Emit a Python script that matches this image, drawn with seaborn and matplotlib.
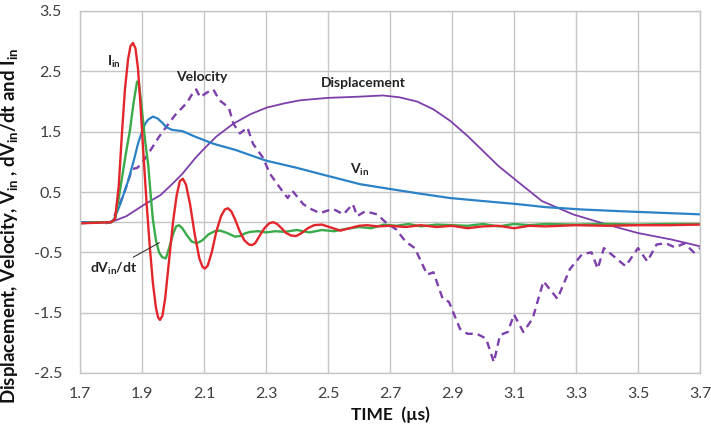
import numpy as np
import pandas as pd
import matplotlib
matplotlib.use("Agg")
import matplotlib.pyplot as plt
import seaborn as sns

# --- measured waveforms (time in microseconds) ---
i_in_t = [1.70, 1.75, 1.80, 1.813, 1.825, 1.835, 1.845, 1.855, 1.863, 1.871, 1.879,
          1.887, 1.895, 1.905, 1.915, 1.925, 1.935, 1.945, 1.952, 1.958, 1.966, 1.975,
          1.988, 2.000, 2.012, 2.022, 2.032, 2.042, 2.055, 2.070, 2.085, 2.095, 2.103,
          2.112, 2.125, 2.140, 2.155, 2.167, 2.177, 2.188, 2.200, 2.215, 2.230, 2.245,
          2.255, 2.265, 2.280, 2.295, 2.310, 2.323, 2.336, 2.350, 2.365, 2.380, 2.397,
          2.415, 2.435, 2.455, 2.480, 2.510, 2.540, 2.570, 2.600, 2.626, 2.660, 2.700,
          2.750, 2.800, 2.850, 2.900, 2.950, 3.000, 3.050, 3.100, 3.150, 3.200, 3.300,
          3.400, 3.500, 3.600, 3.700]
i_in_v = [-0.02, -0.01, 0.00, 0.05, 0.60, 1.45, 2.20, 2.70, 2.92, 2.97, 2.88,
          2.55, 1.95, 1.10, 0.30, -0.40, -1.00, -1.42, -1.58, -1.62, -1.55, -1.25,
          -0.60, 0.00, 0.45, 0.68, 0.72, 0.62, 0.30, -0.20, -0.60, -0.74, -0.77,
          -0.72, -0.50, -0.15, 0.10, 0.21, 0.23, 0.18, 0.05, -0.15, -0.30, -0.37,
          -0.38, -0.35, -0.22, -0.10, -0.02, 0.00, -0.03, -0.10, -0.18, -0.22, -0.23,
          -0.18, -0.10, -0.05, -0.04, -0.09, -0.14, -0.10, -0.06, -0.05, -0.07, -0.06,
          -0.08, -0.05, -0.08, -0.06, -0.10, -0.07, -0.06, -0.10, -0.06, -0.07, -0.05,
          -0.06, -0.05, -0.05, -0.04]

dvdt_t = [1.70, 1.75, 1.80, 1.813, 1.825, 1.839, 1.850, 1.861, 1.872, 1.884, 1.890,
          1.898, 1.910, 1.920, 1.928, 1.935, 1.945, 1.955, 1.965, 1.977, 1.988, 2.000,
          2.010, 2.019, 2.030, 2.045, 2.060, 2.077, 2.095, 2.115, 2.135, 2.152, 2.175,
          2.200, 2.216, 2.235, 2.250, 2.275, 2.300, 2.330, 2.360, 2.400, 2.440, 2.480,
          2.520, 2.560, 2.600, 2.640, 2.680, 2.720, 2.760, 2.800, 2.850, 2.900, 2.950,
          3.000, 3.050, 3.100, 3.150, 3.200, 3.300, 3.400, 3.500, 3.600, 3.700]
dvdt_v = [-0.02, 0.00, 0.00, 0.05, 0.40, 0.85, 1.20, 1.52, 1.95, 2.33, 2.30,
          1.95, 1.35, 0.95, 0.45, 0.05, -0.30, -0.50, -0.58, -0.60, -0.42, -0.20,
          -0.07, -0.05, -0.10, -0.22, -0.32, -0.35, -0.30, -0.20, -0.15, -0.14, -0.18,
          -0.24, -0.23, -0.18, -0.16, -0.15, -0.17, -0.15, -0.16, -0.13, -0.17, -0.13,
          -0.15, -0.11, -0.08, -0.10, -0.04, -0.06, -0.03, -0.07, -0.04, -0.05, -0.06,
          -0.03, -0.07, -0.03, -0.05, -0.03, -0.04, -0.03, -0.04, -0.03, -0.03]

v_in_t = [1.70, 1.75, 1.80, 1.81, 1.83, 1.855, 1.875, 1.887, 1.90, 1.91, 1.92,
          1.935, 1.95, 1.965, 1.98, 1.997, 2.03, 2.07, 2.13, 2.20, 2.30, 2.40,
          2.474, 2.55, 2.603, 2.70, 2.80, 2.894, 3.00, 3.11, 3.20, 3.32, 3.45,
          3.55, 3.70]
v_in_v = [0.00, 0.00, 0.00, 0.05, 0.30, 0.68, 1.05, 1.30, 1.50, 1.63, 1.70,
          1.75, 1.72, 1.65, 1.57, 1.53, 1.51, 1.42, 1.30, 1.20, 1.02, 0.90,
          0.80, 0.70, 0.63, 0.55, 0.47, 0.40, 0.35, 0.30, 0.25, 0.21, 0.18,
          0.16, 0.13]

disp_t = [1.70, 1.75, 1.80, 1.85, 1.91, 1.96, 1.997, 2.03, 2.07, 2.097, 2.14,
          2.194, 2.25, 2.303, 2.36, 2.41, 2.50, 2.60, 2.677, 2.73, 2.787, 2.84,
          2.894, 2.95, 3.00, 3.05, 3.11, 3.19, 3.29, 3.40, 3.50, 3.61, 3.70]
disp_v = [0.00, 0.00, 0.00, 0.10, 0.30, 0.45, 0.63, 0.80, 1.05, 1.20, 1.42,
          1.63, 1.79, 1.90, 1.97, 2.02, 2.06, 2.08, 2.10, 2.07, 2.00, 1.87,
          1.68, 1.43, 1.18, 0.93, 0.68, 0.35, 0.13, -0.04, -0.18, -0.29, -0.40]

vel_t = [1.70, 1.74, 1.78, 1.80, 1.82, 1.845, 1.868, 1.885, 1.90, 1.926, 1.953,
         1.974, 2.006, 2.045, 2.065, 2.075, 2.087, 2.11, 2.13, 2.15, 2.18, 2.195,
         2.216, 2.24, 2.258, 2.29, 2.313, 2.345, 2.37, 2.385, 2.42, 2.44, 2.474,
         2.516, 2.55, 2.58, 2.594, 2.62, 2.658, 2.69, 2.72, 2.75, 2.78, 2.82,
         2.84, 2.87, 2.89, 2.926, 2.95, 2.98, 3.01, 3.035, 3.055, 3.08, 3.10,
         3.13, 3.16, 3.195, 3.24, 3.28, 3.32, 3.35, 3.37, 3.39, 3.43, 3.46,
         3.50, 3.53, 3.56, 3.59, 3.62, 3.65, 3.68, 3.70]
vel_v = [0.00, 0.00, -0.02, 0.00, 0.20, 0.52, 0.88, 0.90, 0.98, 1.18, 1.40,
         1.55, 1.77, 1.98, 2.15, 2.20, 2.07, 2.15, 2.20, 2.02, 1.90, 1.63,
         1.47, 1.57, 1.30, 1.07, 0.80, 0.57, 0.40, 0.52, 0.30, 0.23, 0.15,
         0.22, 0.13, 0.30, 0.10, 0.18, 0.13, -0.02, -0.12, -0.32, -0.43, -0.87,
         -0.83, -1.27, -1.32, -1.77, -1.85, -1.85, -1.93, -2.32, -1.87, -1.82, -1.53,
         -1.82, -1.60, -0.98, -1.27, -0.78, -0.53, -0.50, -0.77, -0.43, -0.60, -0.73,
         -0.43, -0.65, -0.37, -0.35, -0.42, -0.35, -0.50, -0.43]

x_ticks = [1.7, 1.9, 2.1, 2.3, 2.5, 2.7, 2.9, 3.1, 3.3, 3.5, 3.7]
y_ticks = [-2.5, -1.5, -0.5, 0.5, 1.5, 2.5, 3.5]

RED, GREEN, BLUE, PURPLE = "#e3262b", "#3aab4a", "#2b82c6", "#7d3fab"

sns.set_style("white")
plt.rcParams["font.family"] = ["Lato", "DejaVu Sans"]
plt.rcParams["mathtext.fontset"] = "custom"
plt.rcParams["mathtext.rm"] = "Lato"
plt.rcParams["mathtext.bf"] = "Lato:bold"
plt.rcParams["mathtext.default"] = "bf"

fig = plt.figure(figsize=(7.11, 4.29), dpi=100)
ax = fig.add_axes([80 / 711, 1 - 373 / 429, 620 / 711, 362 / 429])

# grid and frame
ax.set_xlim(1.7, 3.7)
ax.set_ylim(-2.5, 3.5)
ax.set_xticks(x_ticks)
ax.set_yticks(y_ticks)
ax.set_xticklabels([f"{v:.1f}" for v in x_ticks])
ax.set_yticklabels([f"{v:.1f}" for v in y_ticks])
ax.grid(True, color="#c6c6c6", lw=1.0)
ax.axhline(0, color="#c6c6c6", lw=1.0, zorder=0.5)
for s in ax.spines.values():
    s.set_color("#c6c6c6")
    s.set_linewidth(1.0)
ax.tick_params(axis="both", length=0, labelsize=11.5, labelcolor="#404040")
ax.tick_params(axis="y", pad=13)
ax.tick_params(axis="x", pad=10)
ax.set_axisbelow(True)

# waveforms
sns.lineplot(x=disp_t, y=disp_v, sort=False, color=PURPLE, lw=1.3, ax=ax)
sns.lineplot(x=vel_t, y=vel_v, sort=False, color=PURPLE, lw=1.7, ax=ax)
ax.lines[-1].set_dashes((3.2, 2.2))
sns.lineplot(x=v_in_t, y=v_in_v, sort=False, color=BLUE, lw=1.6, ax=ax)
sns.lineplot(x=dvdt_t, y=dvdt_v, sort=False, color=GREEN, lw=1.7, ax=ax)
sns.lineplot(x=i_in_t, y=i_in_v, sort=False, color=RED, lw=1.7, ax=ax)

# curve labels
lab = dict(fontsize=10, fontweight="bold", color="#222222", ha="center", va="center")
ax.text(1.81, 2.65, r"I$_{in}$", **lab)
ax.text(2.094, 2.40, "Velocity", **lab)
ax.text(2.613, 2.30, "Displacement", **lab)
ax.text(2.603, 0.86, r"V$_{in}$", **lab)
ax.text(1.81, -0.78, r"dV$_{in}$/dt", **lab)
ax.plot([1.872, 1.956], [-0.58, -0.34], color="#333333", lw=0.8)

ax.set_xlabel("TIME  (\u00b5s)", fontsize=12.5, fontweight="bold", color="#111111", labelpad=4)
ax.set_ylabel(r"Displacement, Velocity, V$_{in}$ , dV$_{in}$/dt and I$_{in}$",
              fontsize=13.4, fontweight="bold", color="#111111")
ax.yaxis.set_label_coords(-(80 - 20) / 620, (373 - 226) / 362)

fig.savefig("out.png", dpi=100)
